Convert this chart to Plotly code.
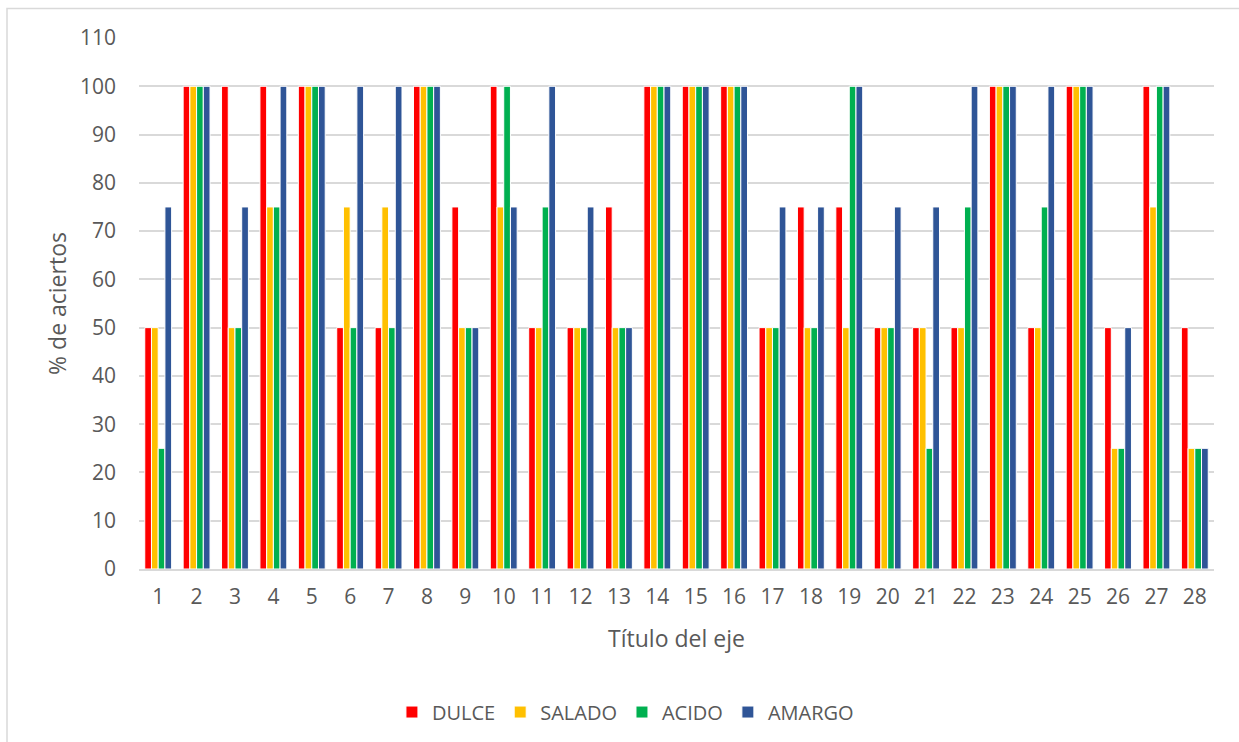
import plotly.graph_objects as go

# Categories (question number) and % of correct answers per taste
categorias = [str(i) for i in range(1, 29)]

dulce = [50, 100, 100, 100, 100, 50, 50, 100, 75, 100, 50, 50, 75, 100,
         100, 100, 50, 75, 75, 50, 50, 50, 100, 50, 100, 50, 100, 50]
salado = [50, 100, 50, 75, 100, 75, 75, 100, 50, 75, 50, 50, 50, 100,
          100, 100, 50, 50, 50, 50, 50, 50, 100, 50, 100, 25, 75, 25]
acido = [25, 100, 50, 75, 100, 50, 50, 100, 50, 100, 75, 50, 50, 100,
         100, 100, 50, 50, 100, 50, 25, 75, 100, 75, 100, 25, 100, 25]
amargo = [75, 100, 75, 100, 100, 100, 100, 100, 50, 75, 100, 75, 50, 100,
          100, 100, 75, 75, 100, 75, 75, 100, 100, 100, 100, 50, 100, 25]

series = [
    ("DULCE", dulce, "#FF0000"),
    ("SALADO", salado, "#FFC000"),
    ("ACIDO", acido, "#00B050"),
    ("AMARGO", amargo, "#2F5597"),
]

FONT = "Open Sans"
TEXT = "#595959"
GRID = "#D9D9D9"

fig = go.Figure()
for nombre, valores, color in series:
    fig.add_trace(go.Bar(
        x=categorias,
        y=valores,
        name=nombre,
        marker=dict(color=color, line=dict(color="white", width=1)),
    ))

fig.update_layout(
    width=1239,
    height=742,
    margin=dict(l=139, r=25, t=38, b=172),
    paper_bgcolor="white",
    plot_bgcolor="white",
    barmode="group",
    bargap=0.30,
    bargroupgap=0,
    font=dict(family=FONT, color=TEXT, size=20),
    showlegend=True,
    legend=dict(
        orientation="h",
        x=0.4525,
        xanchor="center",
        y=-0.267,
        yanchor="middle",
        font=dict(family=FONT, color=TEXT, size=20),
        itemwidth=30,
        traceorder="normal",
    ),
    xaxis=dict(
        type="category",
        showgrid=False,
        showline=True,
        linecolor=GRID,
        linewidth=1.5,
        ticks="",
        tickfont=dict(family=FONT, color=TEXT, size=21),
        ticklabelstandoff=8,
        title=dict(text="Título del eje", font=dict(family=FONT, color=TEXT, size=23), standoff=22),
    ),
    yaxis=dict(
        range=[0, 110],
        dtick=10,
        showgrid=True,
        gridcolor=GRID,
        gridwidth=1.5,
        zeroline=False,
        showline=False,
        ticks="",
        tickfont=dict(family=FONT, color=TEXT, size=21),
        ticklabelstandoff=22,
        title=dict(text="% de aciertos", font=dict(family=FONT, color=TEXT, size=23), standoff=6),
    ),
    shapes=[dict(
        type="rect",
        xref="paper", yref="paper",
        x0=(7 - 139) / 1075, x1=(1260 - 139) / 1075,
        y0=(570.5 - 760) / 532, y1=(570.5 - 9) / 532,
        line=dict(color=GRID, width=1.5),
        fillcolor="rgba(0,0,0,0)",
        layer="below",
    )],
)

fig.write_html("out.html")
